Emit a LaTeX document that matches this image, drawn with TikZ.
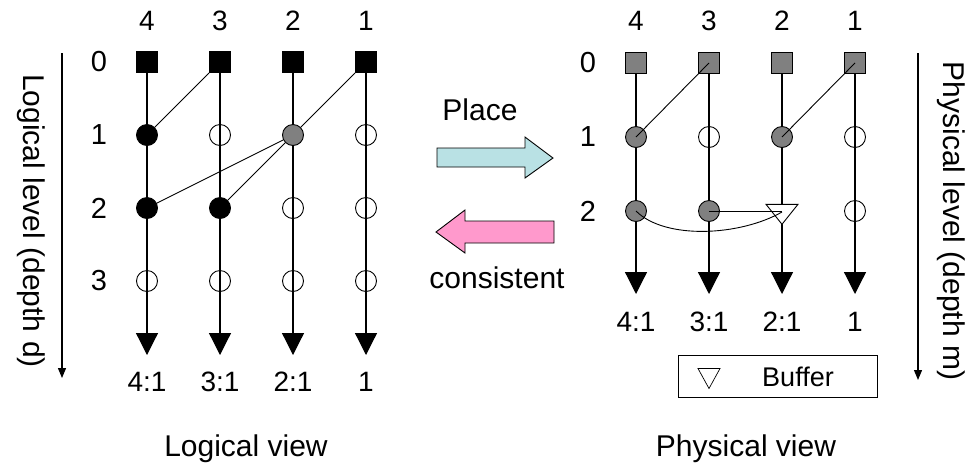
\documentclass[tikz,border=0pt]{standalone}
\usepackage{fontspec}
\setmainfont{Liberation Sans}
\usetikzlibrary{arrows.meta,shapes.geometric}
\definecolor{midgray}{RGB}{128,128,128}
\definecolor{placecyan}{RGB}{185,225,228}
\definecolor{backpink}{RGB}{255,153,204}
\pgfdeclarelayer{wires}
\pgfsetlayers{wires,main}

\begin{document}
\begin{tikzpicture}[x=1pt,y=-1pt,
    txt/.style={font=\fontsize{#1}{#1}\selectfont, inner sep=0pt},
    gate/.style={rectangle, draw, line width=0.9pt, minimum size=21pt, inner sep=0pt},
    pin/.style={circle, draw, line width=0.9pt, minimum size=21pt, inner sep=0pt},
    pinblack/.style={fill=black},
    pingray/.style={fill=midgray},
    pinopen/.style={},
    buffer/.style={isosceles triangle, shape border rotate=-90, isosceles triangle stretches,
                   draw, fill=white, line width=0.9pt, inner sep=0pt},
    sink/.style={line width=1.2pt, -{Triangle[width=22pt,length=22pt]}},
    axis/.style={line width=1.2pt, -{Triangle[width=8pt,length=10pt]}},
    link/.style={line width=0.9pt},
    bigarrow/.style={draw, line width=0.9pt}]
  \useasboundingbox (0,0) rectangle (977,467);

  % ---- logical view ----
  \foreach \c/\x/\o in {4/147/4:1,3/220/3:1,2/293/2:1,1/366/1}{
    \node[txt=28] (ltop\c) at (\x,21) {\c};
    \node[gate, fill=black] (lsq\c) at (\x,62) {};
    \coordinate (lend\c) at (\x,355);
    \node[txt=28] (lout\c) at (\x,382) {\o};
    \begin{pgfonlayer}{wires}
      \draw[sink] (lsq\c.center) -- (lend\c);
    \end{pgfonlayer}
  }
  \foreach \r/\y in {0/62,1/135,2/208,3/281}
    \node[txt=29] (lrow\r) at (99,\y) {\r};
  \foreach \c/\x/\s in {4/147/pinblack,3/220/pinopen,2/293/pingray,1/366/pinopen}
    \node[pin,\s] (lonec\c) at (\x,135) {};
  \foreach \c/\x/\s in {4/147/pinblack,3/220/pinblack,2/293/pinopen,1/366/pinopen}
    \node[pin,\s] (ltwoc\c) at (\x,208) {};
  \foreach \c/\x in {4/147,3/220,2/293,1/366}
    \node[pin] (lthreec\c) at (\x,281) {};

  \draw[link] (lsq3) -- (lonec4);
  \draw[link] (lsq1) -- (lonec2);
  \draw[link] (lonec2) -- (ltwoc4);
  \draw[link] (lonec2) -- (ltwoc3);

  \coordinate (laxtop) at (62,53);
  \coordinate (laxbot) at (62,378);
  \draw[axis] (laxtop) -- (laxbot);
  \node[txt=30, rotate=-90] (laxlbl) at (31,221) {Logical level (depth d)};
  \node[txt=30, anchor=base] (ltitle) at (246,456) {Logical view};

  % ---- place / consistent ----
  \node[txt=30, anchor=base] (place) at (480,120) {Place};
  \draw[bigarrow, fill=placecyan] (437,148) -- (525,148) -- (525,137) -- (553,158)
    -- (525,178) -- (525,167) -- (437,167) -- cycle;
  \draw[bigarrow, fill=backpink] (436,232) -- (465,210) -- (465,221) -- (554,221)
    -- (554,243) -- (465,243) -- (465,253) -- cycle;
  \node[txt=30, anchor=base] (consist) at (497,288) {consistent};

  % ---- physical view ----
  \foreach \c/\x/\o in {4/636/4:1,3/709/3:1,2/782/2:1,1/855/1}{
    \node[txt=28] (rtop\c) at (\x,21) {\c};
    \node[gate, fill=midgray] (rsq\c) at (\x,63) {};
    \coordinate (rend\c) at (\x,294);
    \node[txt=28] (rout\c) at (\x,322) {\o};
    \begin{pgfonlayer}{wires}
      \draw[sink] (rsq\c.center) -- (rend\c);
    \end{pgfonlayer}
  }
  \foreach \r/\y in {0/63,1/137,2/211}
    \node[txt=29] (rrow\r) at (588,\y) {\r};
  \foreach \c/\x/\s in {4/636/pingray,3/709/pinopen,2/782/pingray,1/855/pinopen}
    \node[pin,\s] (ronec\c) at (\x,137) {};
  \foreach \c/\x/\s in {4/636/pingray,3/709/pingray,1/855/pinopen}
    \node[pin,\s] (rtwoc\c) at (\x,211) {};
  \node[buffer, minimum width=32pt, minimum height=20pt] (buf) at (782,212) {};

  \draw[link] (rsq3.center) -- (ronec4.center);
  \draw[link] (rsq1.center) -- (ronec2.center);
  \draw[link] (rtwoc3.center) -- (rtwoc3.center -| buf.center);
  \draw[link] (rtwoc4.center) .. controls (665,240) and (740,236) .. (buf.center);

  % legend
  \node[draw, line width=0.9pt, minimum width=199pt, minimum height=42pt, inner sep=0pt]
    (legend) at (777.5,376) {};
  \node[buffer, line width=0.7pt, minimum width=22pt, minimum height=20pt] (legbuf) at (709,375) {};
  \node[txt=27] (legtxt) at (798,377) {Buffer};

  \coordinate (raxtop) at (918,53);
  \coordinate (raxbot) at (918,380);
  \draw[axis] (raxtop) -- (raxbot);
  \node[txt=30, rotate=-90] (raxlbl) at (951,221) {Physical level (depth m)};
  \node[txt=30, anchor=base] (rtitle) at (746,456) {Physical view};
\end{tikzpicture}
\end{document}
